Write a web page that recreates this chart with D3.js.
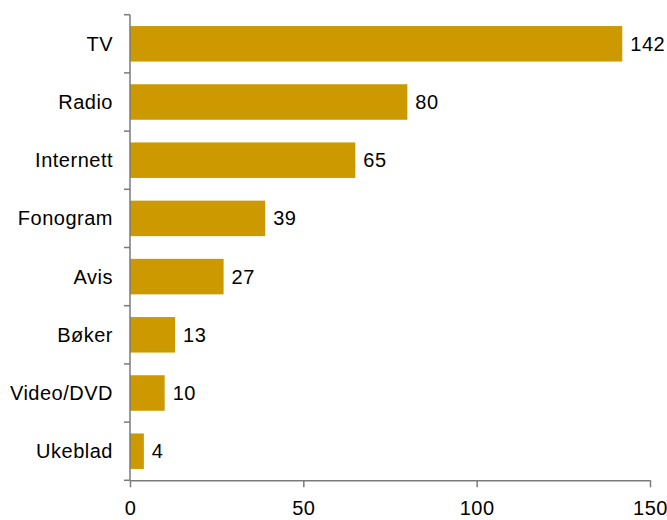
<!DOCTYPE html>
<html>
<head>
<meta charset="utf-8">
<script src="https://cdn.jsdelivr.net/npm/d3@7"></script>
<style>
  html, body { margin: 0; padding: 0; background: #fff; }
  svg { display: block; }
  text { font-family: "Liberation Sans", Arial, sans-serif; fill: #000; letter-spacing: 0.5px; }
</style>
</head>
<body>
<svg id="chart" width="667" height="520"></svg>
<script>
// Media categories and their values (top to bottom)
const categories = ["TV", "Radio", "Internett", "Fonogram", "Avis", "Bøker", "Video/DVD", "Ukeblad"];
const values = [142, 80, 65, 39, 27, 13, 10, 4];
const xTicks = [0, 50, 100, 150];

const width = 667, height = 520;
const margin = { left: 130, right: 17, top: 14.7, bottom: 39.7 };
const barColor = "#CC9900";
const axisColor = "#7a7a7a";

const svg = d3.select("#chart");

const x = d3.scaleLinear()
  .domain([0, 150])
  .range([margin.left, width - margin.right]);

const y = d3.scaleBand()
  .domain(categories)
  .range([margin.top, height - margin.bottom])
  .paddingInner(0.39)
  .paddingOuter(0.195);

const step = y.step();
const top0 = margin.top;
const bottom0 = height - margin.bottom;

// Bars
svg.append("g")
  .selectAll("rect")
  .data(categories)
  .join("rect")
  .attr("x", x(0))
  .attr("y", d => y(d))
  .attr("width", (d, i) => x(values[i]) - x(0))
  .attr("height", y.bandwidth())
  .attr("fill", barColor);

// Value labels
svg.append("g")
  .selectAll("text")
  .data(categories)
  .join("text")
  .attr("x", (d, i) => x(values[i]) + 8)
  .attr("y", d => y(d) + y.bandwidth() / 2)
  .attr("dy", "0.35em")
  .attr("font-size", 20)
  .text((d, i) => values[i]);

// Category labels
svg.append("g")
  .selectAll("text")
  .data(categories)
  .join("text")
  .attr("x", x(0) - 17)
  .attr("y", d => y(d) + y.bandwidth() / 2)
  .attr("dy", "0.35em")
  .attr("text-anchor", "end")
  .attr("font-size", 20)
  .text(d => d);

// Vertical axis with ticks at band boundaries
const yAxis = svg.append("g");
yAxis.append("line")
  .attr("x1", x(0)).attr("x2", x(0))
  .attr("y1", top0).attr("y2", bottom0)
  .attr("stroke", axisColor).attr("stroke-width", 1.5);
yAxis.selectAll("line.tick")
  .data(d3.range(categories.length + 1))
  .join("line")
  .attr("class", "tick")
  .attr("x1", x(0) - 6).attr("x2", x(0))
  .attr("y1", i => top0 + i * step)
  .attr("y2", i => top0 + i * step)
  .attr("stroke", axisColor).attr("stroke-width", 1.5);

// Horizontal axis
const xAxis = d3.axisBottom(x)
  .tickValues(xTicks)
  .tickSize(7)
  .tickPadding(14)
  .tickSizeOuter(0);

const gx = svg.append("g")
  .attr("transform", `translate(0,${bottom0})`)
  .call(xAxis);
gx.select(".domain").attr("stroke", axisColor).attr("stroke-width", 1.5);
gx.selectAll(".tick line").attr("stroke", axisColor).attr("stroke-width", 1.5);
gx.selectAll(".tick text")
  .attr("font-size", 20)
  .attr("font-family", "'Liberation Sans', Arial, sans-serif")
  .attr("fill", "#000");
</script>
</body>
</html>
